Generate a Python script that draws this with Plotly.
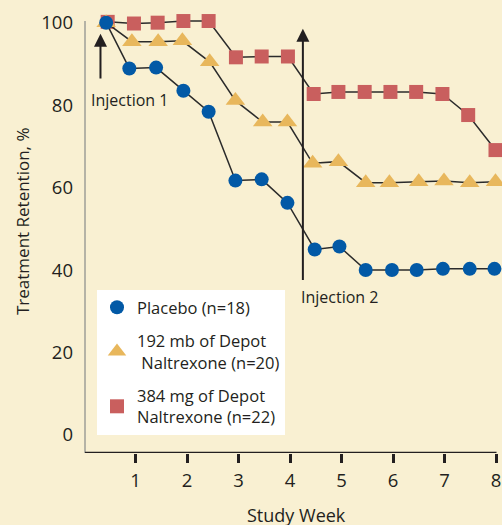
import plotly.graph_objects as go

# ---- data ----
weeks_placebo = [0.43, 0.88, 1.40, 1.93, 2.42, 2.94, 3.45, 3.95, 4.48, 4.96, 5.47, 5.98, 6.46, 6.97, 7.49, 7.97]
placebo = [100, 88.9, 89.1, 83.5, 78.4, 61.7, 62.0, 56.3, 45.0, 45.7, 40.0, 40.0, 40.0, 40.3, 40.3, 40.3]

weeks_192 = [0.43, 0.93, 1.44, 1.91, 2.44, 2.94, 3.47, 3.95, 4.44, 4.94, 5.47, 5.93, 6.50, 6.99, 7.49, 7.99]
dose_192 = [100, 95.4, 95.4, 95.6, 90.5, 81.1, 75.9, 75.9, 65.9, 66.3, 61.2, 61.2, 61.4, 61.6, 61.2, 61.4]

weeks_384 = [0.46, 0.97, 1.43, 1.93, 2.42, 2.95, 3.45, 3.96, 4.46, 4.94, 5.45, 5.95, 6.45, 6.96, 7.46, 7.99]
dose_384 = [100.2, 99.8, 100, 100.4, 100.4, 91.6, 91.8, 91.8, 82.7, 83.2, 83.2, 83.2, 83.2, 82.7, 77.6, 69.1]

x_tickvals = [1, 2, 3, 4, 5, 6, 7, 8]
x_ticktext = ["1", "2", "3", "4", "5", "6", "7", "8"]
y_tickvals = [0, 20, 40, 60, 80, 100]

injection_weeks = [0.32, 4.25]
injection_labels = ["Injection 1", "Injection 2"]

names = ["384 mg of Depot<br>Naltrexone (n=22)", "192 mb of Depot<br> Naltrexone (n=20)", "Placebo (n=18)"]

BG = "#F9F0D2"
FONT = "Open Sans"
INK = "#231F20"

fig = go.Figure()

series = [
    (weeks_384, dose_384, "square", "#C95F5E", 14, names[0], "g384", 3),
    (weeks_192, dose_192, "triangle-up", "#E8B75C", 17, names[1], "g192", 2),
    (weeks_placebo, placebo, "circle", "#0259A6", 14, names[2], "gpla", 1),
]
for xs, ys, sym, col, sz, nm, grp, rank in series:
    fig.add_trace(go.Scatter(x=xs, y=ys, mode="lines", line=dict(color="#2b2b2b", width=1.5),
                             showlegend=False, hoverinfo="skip", cliponaxis=False,
                             legendgroup=grp, legendrank=rank))
    fig.add_trace(go.Scatter(x=xs, y=ys, mode="markers", name=nm, legendgroup=grp, legendrank=rank,
                             marker=dict(symbol=sym, color=col, size=sz, line=dict(width=0)),
                             cliponaxis=False))

# y axis grey line and x axis black line
fig.add_shape(type="line", x0=0, x1=0, y0=100.4, y1=-6.8, xref="x", yref="y",
              line=dict(color="#B5B3A6", width=4), layer="below")
fig.add_shape(type="line", x0=0.02, x1=8.01, y0=-4.37, y1=-4.37, xref="x", yref="y",
              line=dict(color=INK, width=2.5), layer="above")

# injection arrows
fig.add_annotation(x=injection_weeks[0], y=97.3, ax=injection_weeks[0], ay=86.1,
                   xref="x", yref="y", axref="x", ayref="y", text="", showarrow=True,
                   arrowhead=2, arrowsize=1.3, arrowwidth=2, arrowcolor=INK)
fig.add_annotation(x=injection_weeks[1], y=98.5, ax=injection_weeks[1], ay=37.2,
                   xref="x", yref="y", axref="x", ayref="y", text="", showarrow=True,
                   arrowhead=2, arrowsize=1.3, arrowwidth=2, arrowcolor=INK)
fig.add_annotation(x=0.105, y=81.3, xref="x", yref="y", text=injection_labels[0], showarrow=False,
                   xanchor="left", yanchor="middle", font=dict(size=16, color=INK, family=FONT))
fig.add_annotation(x=4.165, y=33.5, xref="x", yref="y", text=injection_labels[1], showarrow=False,
                   xanchor="left", yanchor="middle", font=dict(size=16, color=INK, family=FONT))

L, T, W, H = 84, 10, 502, 525
B = 72
PW = W - L
PH = H - T - B


def px_to_paper(px, py):
    return (px - L) / PW, (H - B - py) / PH


# axis titles
tx, ty = px_to_paper(22, 221)
fig.add_annotation(x=tx, y=ty, xref="paper", yref="paper", text="Treatment Retention, %",
                   textangle=-90, showarrow=False, xanchor="center", yanchor="middle",
                   font=dict(size=17, color=INK, family=FONT))
sx, sy = px_to_paper(296, 515)
fig.add_annotation(x=sx, y=sy, xref="paper", yref="paper", text="Study Week",
                   showarrow=False, xanchor="center", yanchor="middle",
                   font=dict(size=18, color=INK, family=FONT))

lx, ly = px_to_paper(97, 290)
fig.update_layout(
    width=W, height=H,
    margin=dict(l=L, r=0, t=T, b=B, pad=0),
    paper_bgcolor=BG, plot_bgcolor=BG,
    font=dict(family=FONT, color=INK),
    showlegend=True,
    legend=dict(x=lx, y=ly, xanchor="left", yanchor="top",
                bgcolor="white", borderwidth=0, traceorder="grouped",
                font=dict(size=16.5, family=FONT, color=INK),
                itemwidth=30, tracegroupgap=9),
    xaxis=dict(range=[0, PW / 51.5], tickvals=x_tickvals, ticktext=x_ticktext,
               showgrid=False, zeroline=False, showline=False,
               ticks="outside", ticklen=9, tickwidth=2.5, tickcolor=INK,
               tickfont=dict(size=18.5, family=FONT, color=INK), ticklabelstandoff=2),
    yaxis=dict(range=[-4.37, -4.37 + PH / 4.123], tickvals=y_tickvals,
               showgrid=False, zeroline=False, showline=False, ticks="",
               tickfont=dict(size=18.5, family=FONT, color=INK), ticklabelstandoff=10),
)

fig.write_html("out.html", config={"displayModeBar": False},
               post_script="document.body.style.margin='0';document.body.style.overflow='hidden';")
